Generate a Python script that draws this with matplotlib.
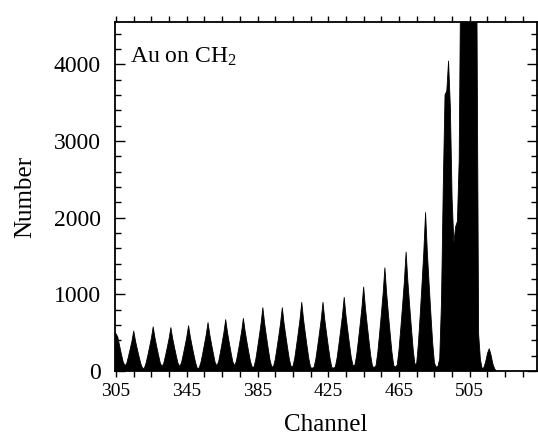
import matplotlib
matplotlib.use('Agg')
import matplotlib.pyplot as plt
import numpy as np
from matplotlib.ticker import MultipleLocator, FixedLocator

plt.rcParams['font.family'] = ['Liberation Serif', 'DejaVu Serif']
plt.rcParams['mathtext.fontset'] = 'custom'
plt.rcParams['mathtext.rm'] = 'Liberation Serif'
plt.rcParams['mathtext.default'] = 'regular'

# Counts per channel, starting at channel 304
first_channel = 304
counts = [
    470, 485, 440, 330, 220, 120, 70, 94, 187, 286,
    390, 520, 390, 286, 187, 94, 36, 35, 104, 207,
    316, 431, 575, 431, 316, 207, 104, 57, 102, 203,
    311, 424, 565, 424, 311, 203, 102, 58, 106, 212,
    325, 443, 590, 443, 325, 212, 106, 30, 40, 113,
    227, 347, 473, 630, 473, 347, 227, 113, 66, 121,
    241, 369, 503, 670, 503, 369, 241, 121, 68, 123,
    247, 377, 514, 685, 514, 377, 247, 123, 50, 52,
    149, 297, 454, 619, 825, 619, 454, 297, 149, 55,
    55, 149, 297, 454, 619, 825, 619, 454, 297, 149,
    58, 60, 161, 322, 492, 671, 895, 671, 492, 322,
    161, 45, 36, 50, 161, 322, 492, 671, 895, 671,
    492, 322, 161, 45, 37, 55, 173, 346, 528, 720,
    960, 720, 528, 346, 173, 70, 75, 197, 394, 602,
    821, 1095, 821, 602, 394, 197, 60, 45, 70, 242,
    484, 740, 1009, 1345, 1009, 740, 484, 242, 70, 50,
    80, 279, 558, 853, 1163, 1550, 1163, 853, 558, 279,
    80, 105, 372, 743, 1136, 1549, 2065, 1549, 1136, 743,
    372, 105, 50, 60, 160, 900, 2400, 3600, 3650, 4040,
    3450, 2250, 1670, 1880, 1950, 2740, 5600, 7800, 9400, 10200,
    10000, 9300, 8200, 7100, 6000, 4900, 480, 150, 30, 45,
    120, 230, 290, 210, 95, 30, 0,
]
channels = np.arange(first_channel, first_channel + len(counts))

x_major = [305, 345, 385, 425, 465, 505]
x_minor = list(range(305, 545, 10))
y_major = [0, 1000, 2000, 3000, 4000]
x_label = 'Channel'
y_label = 'Number'
annotation = r'Au on CH$_2$'

fig = plt.figure(figsize=(5.38, 4.41), dpi=100)
ax = fig.add_axes([115/538, 1 - 371/441, (537 - 115)/538, (371 - 22)/441])
ax.fill_between(channels, counts, color='black', linewidth=0.6, edgecolor='black')
ax.set_xlim(304.4, 543)
ax.set_ylim(0, 4550)

ax.set_xticks(x_major)
ax.set_xticklabels([str(v) for v in x_major])
ax.xaxis.set_minor_locator(FixedLocator(x_minor))
ax.set_yticks(y_major)
ax.set_yticklabels([str(v) for v in y_major])
ax.yaxis.set_minor_locator(MultipleLocator(200))

ax.tick_params(axis='x', which='both', direction='out', top=True, bottom=True,
               length=4, width=1, labelsize=14, pad=5)
ax.tick_params(axis='y', which='major', direction='in', left=True, right=True,
               length=7, width=1, labelsize=17, pad=10)
ax.tick_params(axis='y', which='minor', direction='in', left=True, right=True,
               length=4, width=1)
for s in ax.spines.values():
    s.set_linewidth(1.3)

ax.text(0.0355, 0.8825, annotation, transform=ax.transAxes, fontsize=17,
        va='baseline', ha='left')

ax.set_xlabel(x_label, fontsize=18)
ax.xaxis.set_label_coords(0.5, -0.122)
ax.set_ylabel(y_label, fontsize=18)
ax.yaxis.set_label_coords(-0.187, 0.5)

fig.savefig('out.png', dpi=100)
